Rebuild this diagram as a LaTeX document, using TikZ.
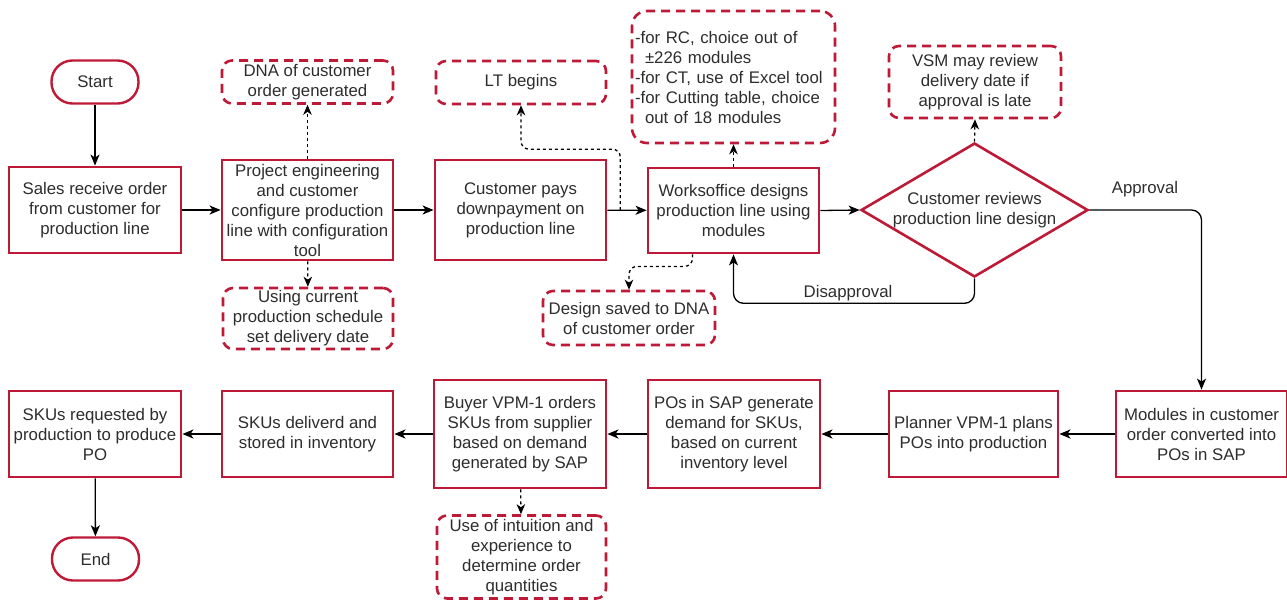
\documentclass[tikz,border=0pt]{standalone}
\usepackage{fontspec}
\setmainfont{Liberation Sans}
\usetikzlibrary{arrows.meta,shapes.geometric,calc}
\definecolor{bred}{RGB}{190,25,55}
\definecolor{txt}{RGB}{45,45,45}
\begin{document}
\begin{tikzpicture}[x=1pt,y=-1pt,
  font=\fontsize{16.8}{20}\selectfont, text=txt,
  proc/.style={draw=bred, line width=2.8pt, fill=white, align=center, inner sep=0pt},
  note/.style={draw=bred, line width=2.6pt, dash pattern=on 9pt off 6pt, rounded corners=10pt, align=center, inner sep=0pt},
  term/.style={draw=bred, line width=2.4pt, rounded corners=21pt, align=center, inner sep=0pt, minimum width=87pt, minimum height=43pt},
  flow/.style={line width=1.3pt, draw=black, -{Stealth[length=11pt,width=9pt,inset=3pt]}},
  bflow/.style={flow, line width=2pt},
  dflow/.style={line width=1.3pt, draw=black, dash pattern=on 3pt off 3pt, -{Stealth[length=10pt,width=8.5pt,inset=3pt]}},
]
\useasboundingbox (0,0) rectangle (1287,600);

% top row
\node[term] (start) at (95,82) {Start};
\node[proc, minimum width=172pt, minimum height=86pt] (sales) at (95,210) {Sales receive order\\from customer for\\production line};
\node[proc, minimum width=171pt, minimum height=100pt] (proj) at (307.5,210) {Project engineering\\and customer\\configure production\\line with configuration\\tool};
\node[note, minimum width=171pt, minimum height=43pt] (dna) at (307.5,82) {DNA of customer\\order generated};
\node[note, minimum width=170pt, minimum height=61pt] (using) at (308,318.5) {Using current\\production schedule\\set delivery date};
\node[proc, minimum width=171pt, minimum height=100pt] (cp) at (520.5,210) {Customer pays\\downpayment on\\production line};
\node[note, minimum width=170pt, minimum height=43pt] (lt) at (521,82.5) {LT begins};
\node[proc, minimum width=171pt, minimum height=85pt] (wo) at (733.5,210.5) {Worksoffice designs\\production line using\\modules};
\node[note, rounded corners=15pt, minimum width=203pt, minimum height=132pt, text width=197pt, align=left] (rc) at (733.5,77) {-for RC, choice out of\\\leavevmode\hspace*{10pt}±226 modules\\-for CT, use of Excel tool\\-for Cutting table, choice\\\leavevmode\hspace*{10pt}out of 18 modules};
\node[note, minimum width=172pt, minimum height=54pt] (ds) at (629,318) {Design saved to DNA\\of customer order};
\node[diamond, draw=bred, line width=2.6pt, minimum width=227pt, minimum height=134pt, inner sep=0pt] (dia) at (974.5,210) {};
\node[align=center] (diat) at (974.5,210) {Customer reviews\\production line design};
\node[note, minimum width=172pt, minimum height=72pt] (vsm) at (975,82) {VSM may review\\delivery date if\\approval is late};

% bottom row
\node[proc, minimum width=171pt, minimum height=86pt] (mods) at (1201.5,434) {Modules in customer\\order converted into\\POs in SAP};
\node[proc, minimum width=169pt, minimum height=86pt] (plan) at (973.5,434) {Planner VPM-1 plans\\POs into production};
\node[proc, minimum width=172pt, minimum height=108pt] (pos) at (734,434) {POs in SAP generate\\demand for SKUs,\\based on current\\inventory level};
\node[proc, minimum width=172pt, minimum height=108pt] (buy) at (520,434) {Buyer VPM-1 orders\\SKUs from supplier\\based on demand\\generated by SAP};
\node[note, minimum width=169pt, minimum height=83pt] (use) at (521.5,557) {Use of intuition and\\experience to\\determine order\\quantities};
\node[proc, minimum width=171pt, minimum height=86pt] (deliv) at (307.5,434) {SKUs deliverd and\\stored in inventory};
\node[proc, minimum width=172pt, minimum height=86pt] (req) at (95,434) {SKUs requested by\\production to produce\\PO};
\node[term] (end) at (95.5,559) {End};

% connectors
\draw[flow] (start) -- (sales);
\draw[flow] (sales) -- (proj);
\draw[dflow] (proj) -- (dna);
\draw[dflow] (proj) -- (using);
\draw[flow] (proj) -- (cp);
\draw[flow] (cp) -- (wo);
\coordinate (ltj) at ($(cp.east)!0.33!(wo.west)$);
\draw[dflow, rounded corners=8pt] (ltj) -- ++(0,-61) -| (lt.south);
\draw[dflow] (wo) -- (rc);
\draw[dflow, rounded corners=8pt] ($(wo.south)+(-41,0)$) -- ++(0,12) -| (ds.north);
\draw[flow] (wo.east) -- (dia.west);
\draw[dflow] (dia.north) -- (vsm.south);
\draw[flow, rounded corners=10pt] (dia.east) -| (mods.north);
\node (appr) at (1145,189) {Approval};
\draw[flow, rounded corners=10pt] (dia.south) -- ++(0,25) -| (wo.south);
\node (disap) at (848,293) {Disapproval};
\draw[bflow] (mods) -- (plan);
\draw[bflow] (plan) -- (pos);
\draw[bflow] (pos) -- (buy);
\draw[bflow] (buy) -- (deliv);
\draw[bflow] (deliv) -- (req);
\draw[dflow] (buy) -- (use);
\draw[flow] (req) -- (end);
\end{tikzpicture}
\end{document}
